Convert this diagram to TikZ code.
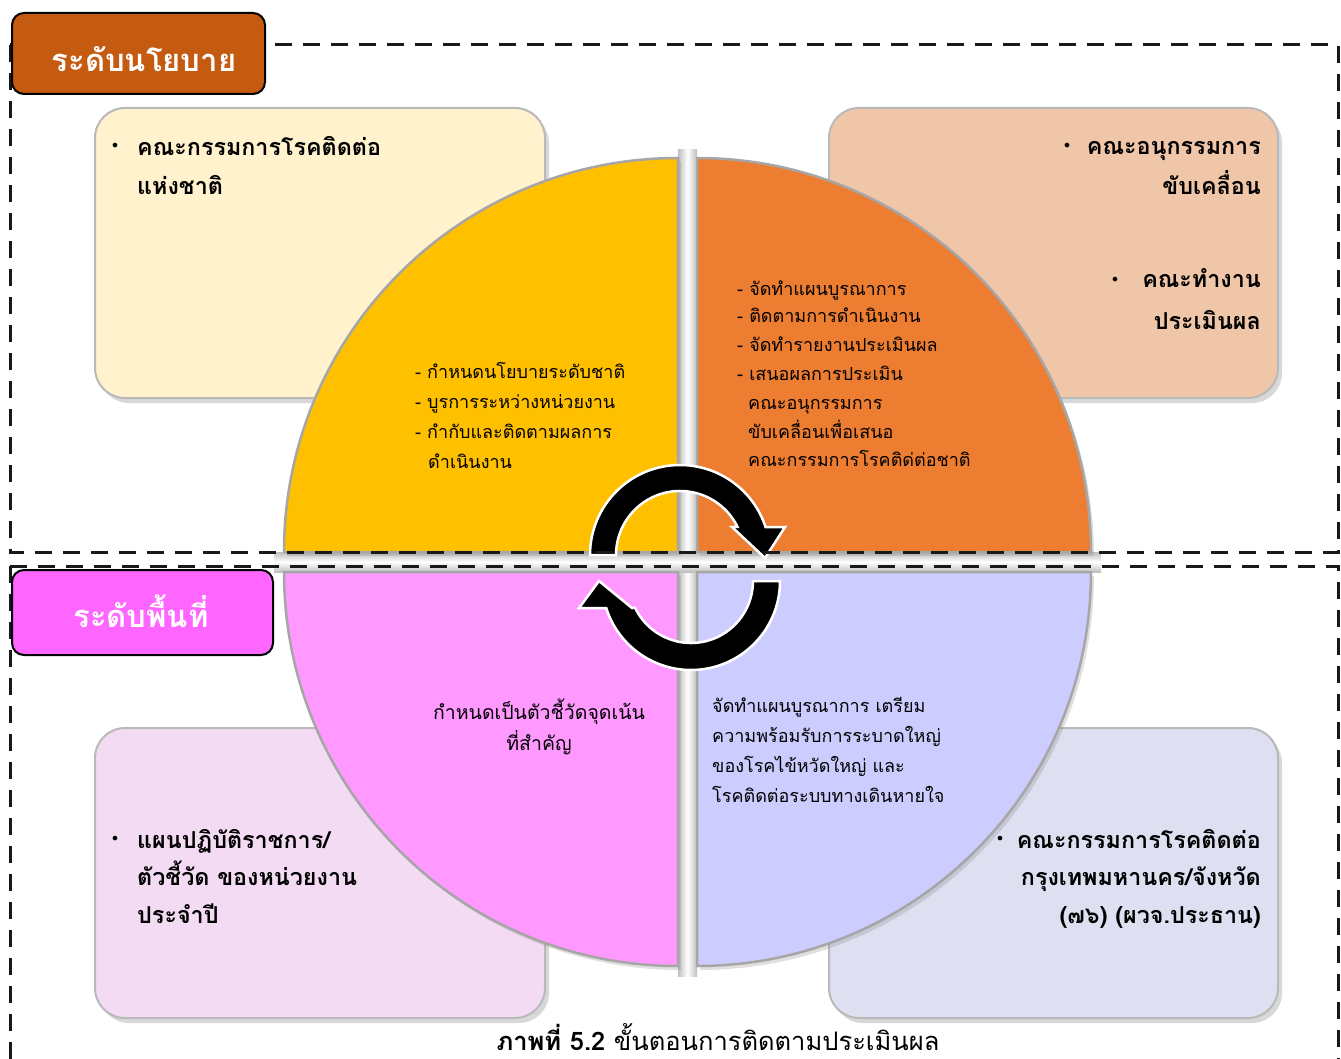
\documentclass[tikz,border=0pt]{standalone}
\usepackage{fontspec}
\setmainfont[Script=Thai]{Loma}
\newfontfamily\symf{DejaVu Sans}
\usetikzlibrary{shadows}
\definecolor{labA}{HTML}{C55A11}
\definecolor{labB}{HTML}{FF66FF}
\definecolor{boxTL}{HTML}{FFF2CC}
\definecolor{boxTR}{HTML}{F0C6A9}
\definecolor{boxBL}{HTML}{F3DCF3}
\definecolor{boxBR}{HTML}{DEE0F2}
\definecolor{qY}{HTML}{FFC000}
\definecolor{qO}{HTML}{ED7D31}
\definecolor{qP}{HTML}{FF99FF}
\definecolor{qL}{HTML}{CCCCFF}
\tikzset{
  rbox/.style={draw=gray!55, line width=2pt, rounded corners=30pt,
    drop shadow={opacity=0.3, shadow xshift=4pt, shadow yshift=-5pt}},
  quad/.style={draw=gray!70, line width=2.5pt,
    drop shadow={opacity=0.25, shadow xshift=3pt, shadow yshift=-4pt}},
  dashline/.style={draw=black!90, line width=3pt, dash pattern=on 17pt off 11pt},
  lab/.style={draw=black, line width=2pt, rounded corners=12pt, inner sep=0pt},
  labt/.style={text=white, font={\fontsize{31}{34}\selectfont\bfseries}, inner sep=0pt},
  bt/.style={font={\fontsize{23.3}{30}\selectfont\bfseries}, inner sep=0pt},
  qt/.style={font={\fontsize{18}{24}\selectfont}, inner sep=0pt},
  pt/.style={font={\fontsize{19.5}{24}\selectfont}, inner sep=0pt},
  bul/.style={font={\symf\fontsize{16}{24}\selectfont}, inner sep=0pt},
  cyc/.style={fill=black, draw=white, line width=2.5pt, line join=miter},
}
\begin{document}
\begin{tikzpicture}[x=1pt,y=1pt]
\useasboundingbox (0,0) rectangle (1341,-1059);
\fill[white] (0,0) rectangle (1341,-1059);

% corner boxes
\path[rbox, fill=boxTL] (95,-108) rectangle (545,-398);
\path[rbox, fill=boxTR] (829,-108) rectangle (1278,-398);
\path[rbox, fill=boxBL] (95,-728) rectangle (545,-1018);
\path[rbox, fill=boxBR] (829,-728) rectangle (1278,-1018);

% silver cross
\shade[left color=gray!50, right color=gray!50, middle color=white] (678,-150) rectangle (697,-976);
\shade[top color=gray!50, bottom color=gray!50, middle color=white] (274,-552) rectangle (1101,-572);

% quadrants
\path[quad, fill=qY] (678,-552) -- (284,-552) arc[start angle=180, end angle=90, radius=394pt] -- cycle;
\path[quad, fill=qO] (697,-552) -- (697,-158) arc[start angle=90, end angle=0, radius=394pt] -- cycle;
\path[quad, fill=qP] (678,-572) -- (284,-572) arc[start angle=180, end angle=270, radius=394pt] -- cycle;
\path[quad, fill=qL] (697,-572) -- (1091,-572) arc[start angle=0, end angle=-90, radius=394pt] -- cycle;

% cycle arrows
\begin{scope}[shift={(680,-555)}]
\path[cyc] (180:90) arc[start angle=180, end angle=18, radius=90pt] -- (105,28) -- (85,-3) -- (52,28) -- (26:64) arc[start angle=26, end angle=180, radius=64pt] -- cycle;
\end{scope}
\begin{scope}[shift={(691,-581)}]
\path[cyc] (0:89) arc[start angle=0, end angle=-162.3, radius=89pt] -- (-112,-27) -- (-92,0) -- (-59,-27) -- (-154.2:62) arc[start angle=-154.2, end angle=0, radius=62pt] -- cycle;
\end{scope}

% dashed frames
\draw[dashline] (10,-45) rectangle (1338,-552);
\draw[dashline] (10,-566) -- (1338,-566) -- (1338,-1075);
\draw[dashline] (10,-566) -- (10,-1075);

% level labels
\node[lab, fill=labA, minimum width=253pt, minimum height=81pt] (lvA) at (138.5,-53.5) {};
\node[labt, anchor=base] (lvAt) at (144,-72) {ระดับนโยบาย};
\node[lab, fill=labB, minimum width=261pt, minimum height=85pt] (lvB) at (142.5,-612.5) {};
\node[labt, anchor=base] (lvBt) at (141,-627) {ระดับพื้นที่};

% top-left box
\node[bul] (b1) at (115,-147) {•};
\node[bt, anchor=base west] (t1a) at (137,-156) {คณะกรรมการโรคติดต่อ};
\node[bt, anchor=base west] (t1b) at (137,-195) {แห่งชาติ};

% top-right box
\node[bul] (b2) at (1067,-147) {•};
\node[bt, anchor=base east] (t2a) at (1261,-155) {คณะอนุกรรมการ};
\node[bt, anchor=base east] (t2b) at (1261,-195) {ขับเคลื่อน};
\node[bul] (b3) at (1115,-281) {•};
\node[bt, anchor=base east] (t2c) at (1261,-288) {คณะทำงาน};
\node[bt, anchor=base east] (t2d) at (1261,-330) {ประเมินผล};

% bottom-left box
\node[bul] (b4) at (115,-840) {•};
\node[bt, anchor=base west] (t3a) at (137,-848) {แผนปฏิบัติราชการ/};
\node[bt, anchor=base west] (t3b) at (137,-885) {ตัวชี้วัด ของหน่วยงาน};
\node[bt, anchor=base west] (t3c) at (137,-923) {ประจำปี};

% bottom-right box
\node[bul] (b5) at (1000,-840) {•};
\node[bt, anchor=base east] (t4a) at (1261,-848) {คณะกรรมการโรคติดต่อ};
\node[bt, anchor=base east] (t4b) at (1261,-885) {กรุงเทพมหานคร/จังหวัด};
\node[bt, anchor=base east] (t4c) at (1261,-923) {(๗๖) (ผวจ.ประธาน)};

% yellow quadrant
\node[qt, anchor=base west] (y1) at (415,-378) {- กำหนดนโยบายระดับชาติ};
\node[qt, anchor=base west] (y2) at (415,-408) {- บูรการระหว่างหน่วยงาน};
\node[qt, anchor=base west] (y3) at (415,-438) {- กำกับและติดตามผลการ};
\node[qt, anchor=base west] (y4) at (428,-468) {ดำเนินงาน};

% orange quadrant
\node[qt, anchor=base west] (o1) at (737,-295) {- จัดทำแผนบูรณาการ};
\node[qt, anchor=base west] (o2) at (737,-323) {- ติดตามการดำเนินงาน};
\node[qt, anchor=base west] (o3) at (737,-351) {- จัดทำรายงานประเมินผล};
\node[qt, anchor=base west] (o4) at (737,-380) {- เสนอผลการประเมิน};
\node[qt, anchor=base west] (o5) at (748,-409) {คณะอนุกรรมการ};
\node[qt, anchor=base west] (o6) at (748,-438) {ขับเคลื่อนเพื่อเสนอ};
\node[qt, anchor=base west] (o7) at (748,-466) {คณะกรรมการโรคติด่ต่อชาติ};

% pink quadrant
\node[pt, anchor=base] (p1) at (539,-719) {กำหนดเป็นตัวชี้วัดจุดเน้น};
\node[pt, anchor=base] (p2) at (539,-750) {ที่สำคัญ};

% lavender quadrant
\node[qt, anchor=base west] (l1) at (712,-712) {จัดทำแผนบูรณาการ เตรียม};
\node[qt, anchor=base west] (l2) at (712,-742) {ความพร้อมรับการระบาดใหญ่};
\node[qt, anchor=base west] (l3) at (712,-772) {ของโรคไข้หวัดใหญ่ และ};
\node[qt, anchor=base west] (l4) at (712,-802) {โรคติดต่อระบบทางเดินหายใจ};

% caption
\node[font={\fontsize{25.5}{30}\selectfont}, inner sep=0pt, anchor=base] (cap) at (718,-1050) {\textbf{ภาพที่ 5.2} ขั้นตอนการติดตามประเมินผล};
\end{tikzpicture}
\end{document}
